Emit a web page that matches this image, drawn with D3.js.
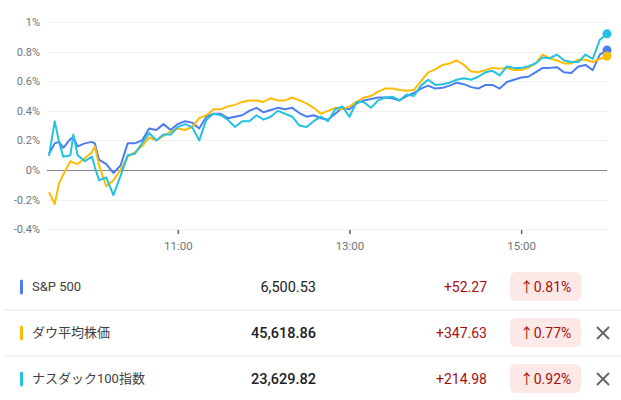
<!DOCTYPE html>
<html><head><meta charset="utf-8">
<script src="https://cdn.jsdelivr.net/npm/d3@7"></script>
<style>
html,body{margin:0;padding:0;background:#fff;}
svg{display:block;font-family:Roboto,"Noto Sans CJK JP",sans-serif;}
</style></head>
<body>
<svg id="c" width="621" height="400"></svg>
<script>
// minutes since 9:30 open
const minutes = [0,4,7,10,15,17,20,25,30,32,35,40,45,50,55,60,65,70,75,80,85,90,95,100,105,110,115,120,125,130,135,140,145,150,155,160,165,170,175,180,185,190,195,200,205,210,215,220,225,230,235,240,245,250,255,260,265,270,275,280,285,290,295,300,305,310,315,320,325,330,335,340,345,350,355,360,365,370,375,380,385,390];
const spValues = [0.11,0.18,0.19,0.15,0.21,0.22,0.16,0.18,0.19,0.18,0.07,0.04,-0.02,0.03,0.18,0.18,0.20,0.28,0.27,0.31,0.27,0.31,0.33,0.32,0.28,0.36,0.38,0.38,0.35,0.36,0.37,0.40,0.42,0.39,0.405,0.42,0.41,0.42,0.385,0.36,0.37,0.35,0.34,0.38,0.42,0.41,0.45,0.47,0.48,0.49,0.49,0.485,0.47,0.50,0.52,0.55,0.57,0.55,0.555,0.57,0.59,0.58,0.56,0.55,0.575,0.575,0.55,0.595,0.61,0.625,0.63,0.66,0.69,0.69,0.695,0.66,0.655,0.70,0.71,0.675,0.78,0.81];
const dowValues = [-0.15,-0.23,-0.09,-0.03,0.06,0.05,0.04,0.08,0.12,0.16,0.03,-0.11,-0.07,0.0,0.09,0.12,0.16,0.22,0.20,0.23,0.26,0.28,0.27,0.29,0.35,0.37,0.41,0.41,0.43,0.44,0.46,0.47,0.47,0.46,0.485,0.47,0.47,0.49,0.47,0.45,0.42,0.38,0.40,0.42,0.41,0.43,0.46,0.49,0.50,0.53,0.55,0.55,0.54,0.535,0.54,0.60,0.66,0.68,0.71,0.72,0.74,0.71,0.665,0.66,0.675,0.69,0.685,0.69,0.675,0.675,0.69,0.72,0.78,0.755,0.74,0.72,0.72,0.745,0.745,0.73,0.75,0.77];
const ndxValues = [0.095,0.33,0.19,0.09,0.10,0.24,0.10,0.06,0.09,0.02,-0.07,-0.05,-0.17,-0.04,0.10,0.11,0.18,0.25,0.20,0.24,0.24,0.29,0.31,0.29,0.20,0.34,0.38,0.37,0.34,0.29,0.33,0.33,0.37,0.34,0.36,0.40,0.38,0.36,0.30,0.29,0.33,0.36,0.33,0.41,0.43,0.36,0.46,0.46,0.42,0.47,0.49,0.495,0.47,0.51,0.50,0.57,0.61,0.575,0.58,0.59,0.61,0.62,0.61,0.63,0.66,0.67,0.64,0.70,0.69,0.69,0.70,0.72,0.76,0.755,0.78,0.74,0.73,0.73,0.78,0.75,0.88,0.92];

const yTicks = [-0.4,-0.2,0,0.2,0.4,0.6,0.8,1];
const xTickMinutes = [90,210,330];
const xTickLabels = ["11:00","13:00","15:00"];

const names = ["S&P 500","ダウ平均株価","ナスダック100指数"];
const prices = ["6,500.53","45,618.86","23,629.82"];
const changes = ["+52.27","+347.63","+214.98"];
const pcts = ["0.81%","0.77%","0.92%"];
const colors = ["#4c7cf3","#fbbc04","#24c1e0"];
const removable = [false,true,true];

const svg = d3.select("#c");
const x = d3.scaleLinear().domain([0,390]).range([49,607]);
const y = d3.scaleLinear().domain([-0.4,1]).range([229.2,22]);

// grid
svg.append("g").selectAll("line").data(yTicks).join("line")
  .attr("x1",47).attr("x2",607)
  .attr("y1",d=>Math.round(y(d))+0.5).attr("y2",d=>Math.round(y(d))+0.5)
  .attr("stroke",d=>d===0?"#80868b":"#eef0f2").attr("stroke-width",1);

// y labels
const yAxis = d3.axisLeft(y).tickValues(yTicks).tickSize(0).tickPadding(0)
  .tickFormat(d=>(Math.round(d*10)/10)+"%");
const ya = svg.append("g").attr("transform","translate(40,0)").call(yAxis);
ya.select(".domain").remove();
ya.selectAll("text").attr("fill","#70757a").style("font-size","11px").style("font-family","Roboto,sans-serif");

// x axis
const xAxis = d3.axisBottom(x).tickValues(xTickMinutes).tickSize(4).tickPadding(8)
  .tickFormat((d,i)=>xTickLabels[i]);
const xa = svg.append("g").attr("transform","translate(0,230)").call(xAxis);
xa.select(".domain").remove();
xa.selectAll("line").attr("stroke","#5f6368").attr("stroke-width",1.5);
xa.selectAll("text").attr("fill","#70757a").style("font-size","11.5px").style("font-family","Roboto,sans-serif");

// lines
const seriesList = [spValues, dowValues, ndxValues];
const line = d3.line().x((d,i)=>x(minutes[i])).y(d=>y(d));
const order = [0,1,2];
svg.append("g").selectAll("path").data(order).join("path")
  .attr("d",i=>line(seriesList[i]))
  .attr("fill","none").attr("stroke",i=>colors[i]).attr("stroke-width",2)
  .attr("stroke-linejoin","round");
svg.append("g").selectAll("circle").data(order).join("circle")
  .attr("cx",i=>x(minutes[minutes.length-1]))
  .attr("cy",i=>y(seriesList[i][seriesList[i].length-1]))
  .attr("r",4.5).attr("fill",i=>colors[i]);

// table
const rowY = d3.scalePoint().domain(d3.range(names.length)).range([286.5,378.5]);
const rows = svg.append("g").selectAll("g").data(d3.range(names.length)).join("g")
  .attr("transform",i=>`translate(0,${rowY(i)})`);
rows.filter(i=>i>0).append("line").attr("x1",5).attr("x2",621).attr("y1",-22.5).attr("y2",-22.5)
  .attr("stroke","#e3e3e3").attr("stroke-width",1);
rows.append("rect").attr("x",20).attr("y",-7).attr("width",3).attr("height",15).attr("rx",1.5)
  .attr("fill",i=>colors[i]);
rows.append("text").attr("x",32).attr("y",4.5).text(i=>names[i])
  .attr("fill","#3c4043").style("font-size","13px").style("font-weight",400);
rows.append("text").attr("x",316).attr("y",5).attr("text-anchor","end").text(i=>prices[i])
  .attr("fill","#202124").style("font-size","14.5px").style("font-weight",i=>i===0?400:500);
rows.append("text").attr("x",487).attr("y",5).attr("text-anchor","end").text(i=>changes[i])
  .attr("fill","#a50e0e").style("font-size","14px");
rows.append("rect").attr("x",510).attr("y",-14.5).attr("width",71).attr("height",29).attr("rx",6)
  .attr("fill","#fce8e6");
rows.append("text").attr("x",545.5).attr("y",5).attr("text-anchor","middle").text(i=>"↑"+pcts[i])
  .attr("fill","#a50e0e").style("font-size","14px");
const xs = rows.filter(i=>removable[i]).append("g").attr("transform","translate(603,0.5)")
  .attr("stroke","#5f6368").attr("stroke-width",1.8);
xs.append("line").attr("x1",-6).attr("y1",-6).attr("x2",6).attr("y2",6);
xs.append("line").attr("x1",-6).attr("y1",6).attr("x2",6).attr("y2",-6);
</script>
</body></html>
